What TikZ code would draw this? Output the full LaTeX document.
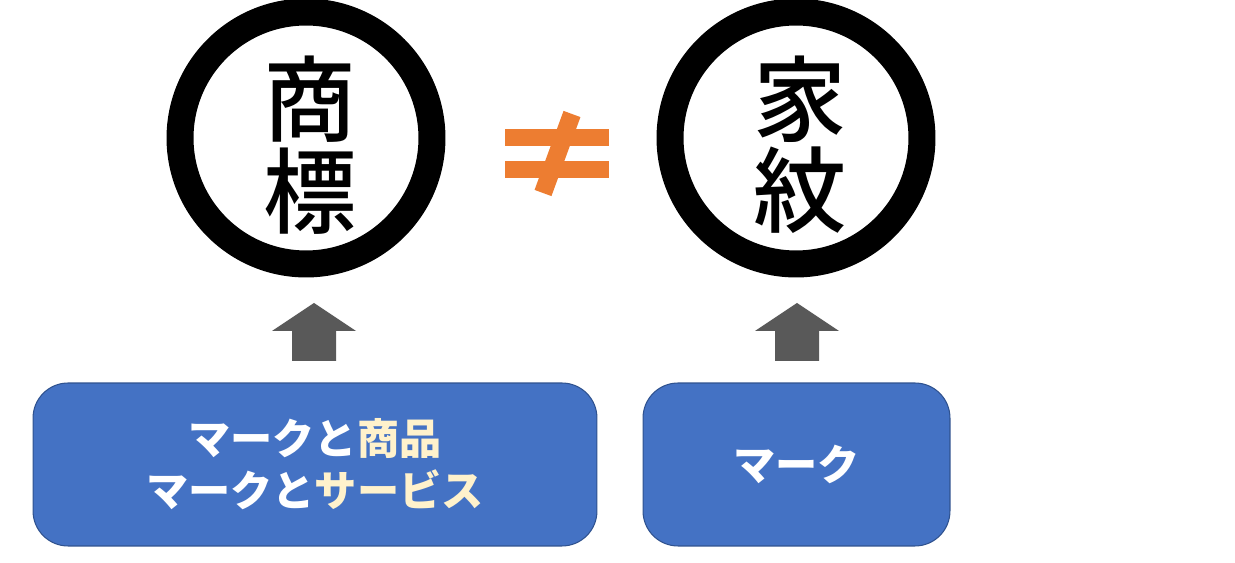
\documentclass[tikz,border=0pt]{standalone}
\usepackage{fontspec}
\newfontfamily\jpfont{Noto Sans CJK JP Medium}
\newfontfamily\jpboxfont{Noto Sans CJK JP}
\usetikzlibrary{positioning,calc}
\definecolor{boxblue}{HTML}{4472C4}
\definecolor{boxline}{HTML}{2F528F}
\definecolor{cream}{HTML}{FFF2CC}
\definecolor{neqorange}{HTML}{ED7D31}
\definecolor{arrowgray}{HTML}{595959}

\begin{document}
\begin{tikzpicture}[
    x=0.02cm, y=-0.02cm,
    ring/.style={circle, draw=black, line width=0.54cm, minimum size=5.04cm, inner sep=0pt},
    bigchar/.style={font=\jpfont\fontsize{53}{52}\selectfont, align=center, inner sep=0pt},
    markbox/.style={rectangle, rounded corners=0.7cm, draw=boxline, line width=0.6pt, fill=boxblue,
        minimum height=3.26cm, inner sep=0pt, text=white, align=center,
        font=\jpboxfont\bfseries\fontsize{24}{29.5}\selectfont},
    uparrow/.style={fill=arrowgray}
]
\useasboundingbox (0,0) rectangle (1235,563);

% Circles
\node[ring] (ring1) at (306,138) {};
\node[ring] (ring2) at (796,138) {};
\node[bigchar] (shohyo) at (310,145) {商\\標};
\node[bigchar] (kamon) at (800,145) {家\\紋};

% Not equal
\coordinate (neq) at (557,153);
\fill[neqorange] ($(neq)+(-52,-24)$) rectangle ($(neq)+(52,-7)$);
\fill[neqorange] ($(neq)+(-52,8)$) rectangle ($(neq)+(52,25)$);
\draw[neqorange, line width=0.36cm] ($(neq)+(15,-39)$) -- ($(neq)+(-14,40)$);

% Boxes
\node[markbox, minimum width=11.28cm] (box1) at (315,464.5)
    {マークと\textcolor{cream}{商品}\\マークと\textcolor{cream}{サービス}};
\node[markbox, minimum width=6.14cm] (box2) at (796.5,464.5) {マーク};

% Up arrows
\foreach \x in {314,797}
    \fill[uparrow] (\x-22,361) -- (\x-22,331) -- (\x-42,331) -- (\x,303)
        -- (\x+42,331) -- (\x+22,331) -- (\x+22,361) -- cycle;

\end{tikzpicture}
\end{document}
